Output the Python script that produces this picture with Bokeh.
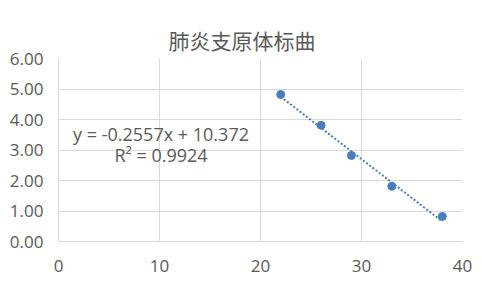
from bokeh.plotting import figure
from bokeh.models import Range1d, FixedTicker, Label, PrintfTickFormatter
from bokeh.embed import file_html
from bokeh.resources import INLINE

# data
conc = [22, 26, 29, 33, 38]
od = [4.82, 3.81, 2.82, 1.81, 0.82]
slope = -0.2557
intercept = 10.372
r2 = 0.9924
x_ticks = [0, 10, 20, 30, 40]
y_ticks = [0, 1, 2, 3, 4, 5, 6]
title_text = "肺炎支原体标曲"

GRID = "#d9d9d9"
TXT = "#595959"
BLUE = "#4a7ebb"

p = figure(width=482, height=290, output_backend="svg", toolbar_location=None,
           x_range=Range1d(0, 40), y_range=Range1d(0, 6),
           min_border_left=58, min_border_right=20, min_border_top=58, min_border_bottom=49)
p.outline_line_color = None
p.background_fill_color = "white"
p.border_fill_color = "white"

p.title.text = title_text
p.title.align = "left"
p.title.offset = 110
p.title.standoff = 8
p.title.text_color = TXT
p.title.text_font = "Noto Sans CJK SC"
p.title.text_font_size = "21px"
p.title.text_font_style = "normal"

for ax, ticks in ((p.xaxis, x_ticks), (p.yaxis, y_ticks)):
    ax.ticker = FixedTicker(ticks=ticks)
    ax.axis_line_color = GRID
    ax.major_tick_line_color = None
    ax.minor_tick_line_color = None
    ax.major_label_text_color = TXT
    ax.major_label_text_font = "Open Sans"
    ax.major_label_text_font_size = "17px"
p.yaxis.formatter = PrintfTickFormatter(format="%.2f")
p.yaxis.major_label_standoff = 9
p.xaxis.major_label_standoff = 12

p.xgrid.ticker = FixedTicker(ticks=x_ticks)
p.ygrid.ticker = FixedTicker(ticks=y_ticks)
p.grid.grid_line_color = GRID
p.grid.grid_line_width = 1

# trendline from the displayed equation
tx = [min(conc), max(conc)]
ty = [slope * v + intercept for v in tx]
p.line(tx, ty, line_color=BLUE, line_width=2, line_dash="2 2")
p.scatter(conc, od, size=8, fill_color=BLUE, line_color=BLUE)

p.add_layout(Label(x=10.15, y=3.54, text=f"y = {slope}x + {intercept}",
                   text_align="center", text_baseline="middle", text_color=TXT,
                   text_font="Open Sans", text_font_size="18px"))
p.add_layout(Label(x=10.15, y=2.82, text=f"R² = {r2}",
                   text_align="center", text_baseline="middle", text_color=TXT,
                   text_font="Open Sans", text_font_size="18px"))

open("out.html", "w").write(file_html(p, INLINE))
